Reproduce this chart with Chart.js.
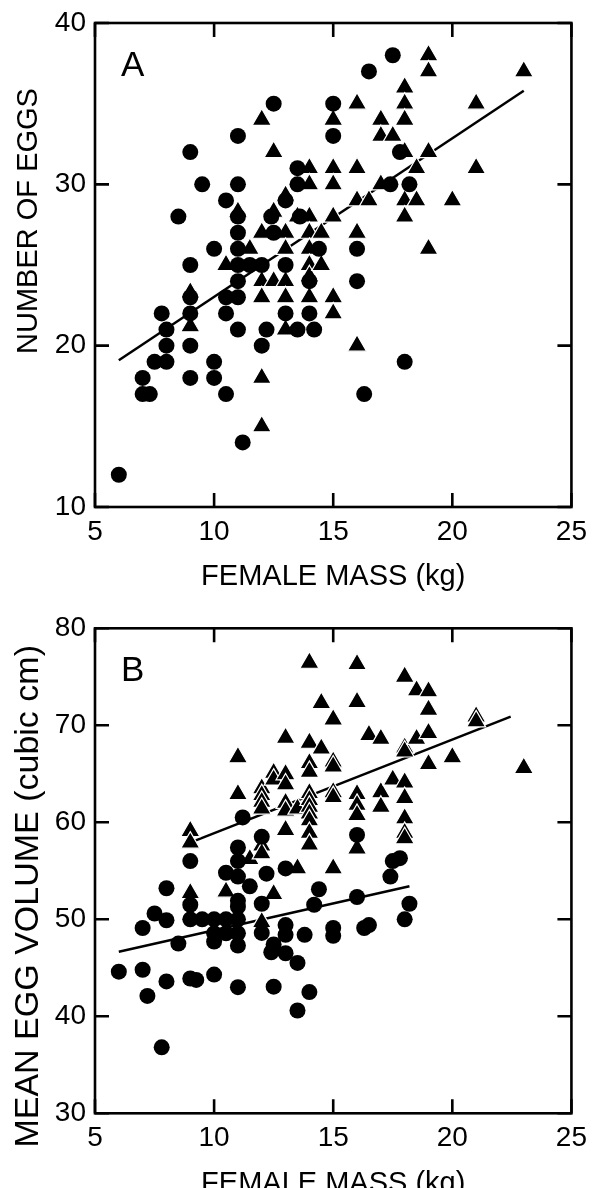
<!DOCTYPE html>
<html><head><meta charset="utf-8">
<script src="https://cdn.jsdelivr.net/npm/chart.js@4"></script>
<style>
html,body{margin:0;padding:0;background:#fff;overflow:hidden;}
#wrap{position:relative;width:598px;height:1188px;overflow:hidden;background:#fff;}
canvas{position:absolute;left:0;}
</style></head><body>
<div id="wrap">
<canvas id="ca" width="598" height="594" style="top:0"></canvas>
<canvas id="cb" width="598" height="630" style="top:594px"></canvas>
</div>
<script>
// ---------- tick labels ----------
const xTicks = [5, 10, 15, 20, 25];
const aYTicks = [10, 20, 30, 40];
const bYTicks = [30, 40, 50, 60, 70, 80];

// ---------- Panel A: number of eggs ----------
const aCircMass = [6,7,7,7.3,7.5,7.8,8,8,8,8.5,9,9,9,9,9,9,9.5,10,10,10,10.5,10.5,10.5,10.5,11,11,11,11,11,11,11,11,11,11.2,11.5,12,12,12.2,12.4,12.5,12.5,13,13,13,13.5,13.5,13.5,13.6,14,14,14.2,14.4,15,15,16,16,16.3,16.5,17.4,17.5,17.8,18,18.2];
const aCircEggs = [12,18,17,17,19,22,21,20,19,28,32,25,23,22,20,18,30,26,19,18,29,23,22,17,33,30,28,27,26,25,24,23,21,14,25,25,20,21,28,35,27,29,25,22,31,30,21,28,24,22,21,26,35,33,26,24,17,37,30,38,32,19,30];
const aTriMass = [9,9,10.5,11,11.5,12,12,12,12,12,12,12.5,12.5,12.5,13,13,13,13,13,13,13.5,14,14,14,14,14,14,14,14,14.5,14.5,15,15,15,15,15,15,16,16,16,16,16,16.5,17,17,17,17.5,18,18,18,18,18,18,18.5,18.5,19,19,19,19,20,21,21,23];
const aTriEggs = [23.3,21.2,25,28.3,26,34,27,24,23,18,15,32,28.3,24,29.3,27,26,24,23,21,28,31,30,28,27,26,25,24.3,23,27,25,34,31,30,28,23,22,35,31,29,27,20,29,34,33,30,33,36,35,34,32,29,28,31,29,38,37,32,26,29,35,31,37];
const aLineMass = [6, 23];
const aLineEggs = [19.1, 35.8];

// ---------- Panel B: mean egg volume ----------
const bCircMass = [6,7,7,7.2,7.5,7.8,8,8,8,8.5,9,9,9,9,9.25,9.5,10,10,10,10,10.5,10.5,10.5,11.2,11,11,11,11,11,11,11,11,11,11.5,12,12.2,12,12,12.5,12.4,12.5,13,13,13,13,13.5,13.5,13.8,14,14.2,14.4,15,15,16,16,16.3,16.5,17.4,17.5,17.8,18,18.2];
const bCircVol = [44.6,44.8,49.1,42.1,50.6,36.8,53.2,49.9,43.6,47.5,56.0,51.5,50.0,43.9,43.75,50.0,50.0,48.55,47.7,44.3,54.8,50.0,48.55,60.5,57.4,56.0,54.4,51.9,51.3,50.0,48.55,47.3,43.0,53.4,58.5,54.7,51.6,48.6,47.4,46.6,43.05,55.25,49.4,48.4,46.5,45.5,40.6,48.4,42.5,51.5,53.1,49.1,48.3,58.7,52.3,49.1,49.4,54.4,56.0,56.3,50.0,51.6];
const bTriMass = [9,9,9,10.5,11,11,11.5,12,12,12,12,12,12,12,12.5,12.5,12.5,13,13,13,13,13,13,13.5,13.5,14,14,14,14,14,14,14,14,14,14,14,14.5,14.5,15,15,15,15,15,15,16,16,16,16,16,16,16.5,17,17,17,17.5,18,18,18,18,18,18,18,18,18.5,18.5,19,19,19,19,20,21,21,23];
const bTriVol = [59.1,57.9,52.7,52.85,66.7,62.9,56.2,63.5,62.8,62.1,61.4,57.6,56.8,49.7,65.1,64.4,52.6,68.7,64.95,63.9,62.0,61.2,59.2,61.4,55.25,76.45,68.2,66.1,65.2,63.0,62.3,61.6,60.9,60.2,58.9,57.7,72.3,67.6,70.6,66.25,65.75,63.1,62.6,55.25,76.3,72.4,62.9,61.8,60.75,57.3,69.0,68.6,63.1,61.6,64.4,75.0,67.7,67.3,64.1,62.5,60.4,58.9,58.35,73.6,68.6,73.5,71.6,69.2,66.0,66.7,70.9,70.4,65.6];
const bUpMass = [9.1, 22.45];
const bUpVol = [58.0, 70.9];
const bLowMass = [6, 18.2];
const bLowVol = [46.65, 53.4];

// ---------- helpers ----------
const FONT = '"Liberation Sans", Arial, Helvetica, sans-serif';
const pts = (xs, ys) => xs.map((x, i) => ({x: x, y: ys[i]}));

const framePlugin = {
  id: 'frame',
  afterDraw(chart, args, opts) {
    const {ctx, chartArea: a} = chart;
    const x = chart.scales.x, y = chart.scales.y;
    ctx.save();
    ctx.strokeStyle = '#000';
    ctx.lineWidth = 2.6;
    ctx.strokeRect(a.left, a.top, a.right - a.left, a.bottom - a.top);
    const L = 14;
    ctx.beginPath();
    x.ticks.forEach(t => {
      const px = x.getPixelForValue(t.value);
      ctx.moveTo(px, a.bottom); ctx.lineTo(px, a.bottom - L);
      ctx.moveTo(px, a.top); ctx.lineTo(px, a.top + L);
    });
    y.ticks.forEach(t => {
      const py = y.getPixelForValue(t.value);
      ctx.moveTo(a.left, py); ctx.lineTo(a.left + L, py);
      ctx.moveTo(a.right, py); ctx.lineTo(a.right - L, py);
    });
    ctx.stroke();
    ctx.fillStyle = '#000';
    ctx.font = '35px ' + FONT;
    ctx.textBaseline = 'alphabetic';
    ctx.textAlign = 'left';
    ctx.fillText(opts.letter, a.left + 26, a.top + 53);
    // rotated y-axis title
    ctx.save();
    ctx.translate(opts.yTitleX, a.top + opts.yTitleDy);
    ctx.rotate(-Math.PI / 2);
    ctx.textAlign = 'center';
    ctx.textBaseline = 'middle';
    ctx.font = opts.yTitleSize + 'px ' + FONT;
    ctx.fillText(opts.yTitle, 0, 0);
    ctx.restore();
    ctx.restore();
  }
};

function makeChart(id, cfg) {
  const circles = {
    data: pts(cfg.cm, cfg.cv), pointStyle: 'circle', pointRadius: 8, pointHoverRadius: 8,
    pointBackgroundColor: '#000', pointBorderWidth: 0, pointBorderColor: '#000'
  };
  const tris = {
    data: pts(cfg.tm, cfg.tv), pointStyle: 'triangle', pointRadius: 11, pointHoverRadius: 11,
    pointBackgroundColor: '#000', pointBorderColor: '#fff', pointBorderWidth: 1.2
  };
  const lines = cfg.lines.map(l => ({
    data: pts(l[0], l[1]), showLine: true, borderColor: '#000', borderWidth: 2.5,
    pointRadius: 0, pointHoverRadius: 0, fill: false
  }));
  return new Chart(document.getElementById(id), {
    type: 'scatter',
    data: {datasets: [circles, tris].concat(lines)},
    plugins: [framePlugin],
    options: {
      responsive: false, animation: false, events: [],
      layout: {padding: {left: 0, right: 17, top: cfg.padTop, bottom: 0}},
      plugins: {legend: {display: false}, tooltip: {enabled: false},
        frame: {letter: cfg.letter, yTitle: cfg.yTitle, yTitleSize: cfg.yTitleSize, yTitleX: 29, yTitleDy: cfg.yTitleDy}},
      scales: {
        x: {
          type: 'linear', position: 'bottom', min: xTicks[0], max: xTicks[xTicks.length - 1],
          afterBuildTicks: s => { s.ticks = xTicks.map(v => ({value: v})); },
          afterFit: s => { s.height = cfg.xH; },
          grid: {display: false, drawTicks: false}, border: {display: false},
          ticks: {autoSkip: false, maxRotation: 0, padding: 11, color: '#000', font: {family: FONT, size: 28, lineHeight: 1}},
          title: {display: true, text: 'FEMALE MASS (kg)', color: '#000', font: {family: FONT, size: 29, lineHeight: 1}, padding: {top: 0, bottom: cfg.xTitlePad}}
        },
        y: {
          type: 'linear', position: 'left', min: cfg.yt[0], max: cfg.yt[cfg.yt.length - 1],
          afterBuildTicks: s => { s.ticks = cfg.yt.map(v => ({value: v})); },
          afterFit: s => { s.width = 95; },
          grid: {display: false, drawTicks: false}, border: {display: false},
          ticks: {autoSkip: false, padding: 9, color: '#000', font: {family: FONT, size: 28, lineHeight: 1}},
          title: {display: false}
        }
      }
    }
  });
}

makeChart('ca', {
  cm: aCircMass, cv: aCircEggs, tm: aTriMass, tv: aTriEggs,
  lines: [[aLineMass, aLineEggs]], yt: aYTicks, yTitle: 'NUMBER OF EGGS', yTitleSize: 29, yTitleDy: 198,
  letter: 'A', padTop: 22, xH: 87, xTitlePad: 3
});
makeChart('cb', {
  cm: bCircMass, cv: bCircVol, tm: bTriMass, tv: bTriVol,
  lines: [[bUpMass, bUpVol], [bLowMass, bLowVol]], yt: bYTicks, yTitle: 'MEAN EGG VOLUME (cubic cm)', yTitleSize: 34, yTitleDy: 268,
  letter: 'B', padTop: 34.3, xH: 110.7, xTitlePad: 26
});
</script>
</body></html>
